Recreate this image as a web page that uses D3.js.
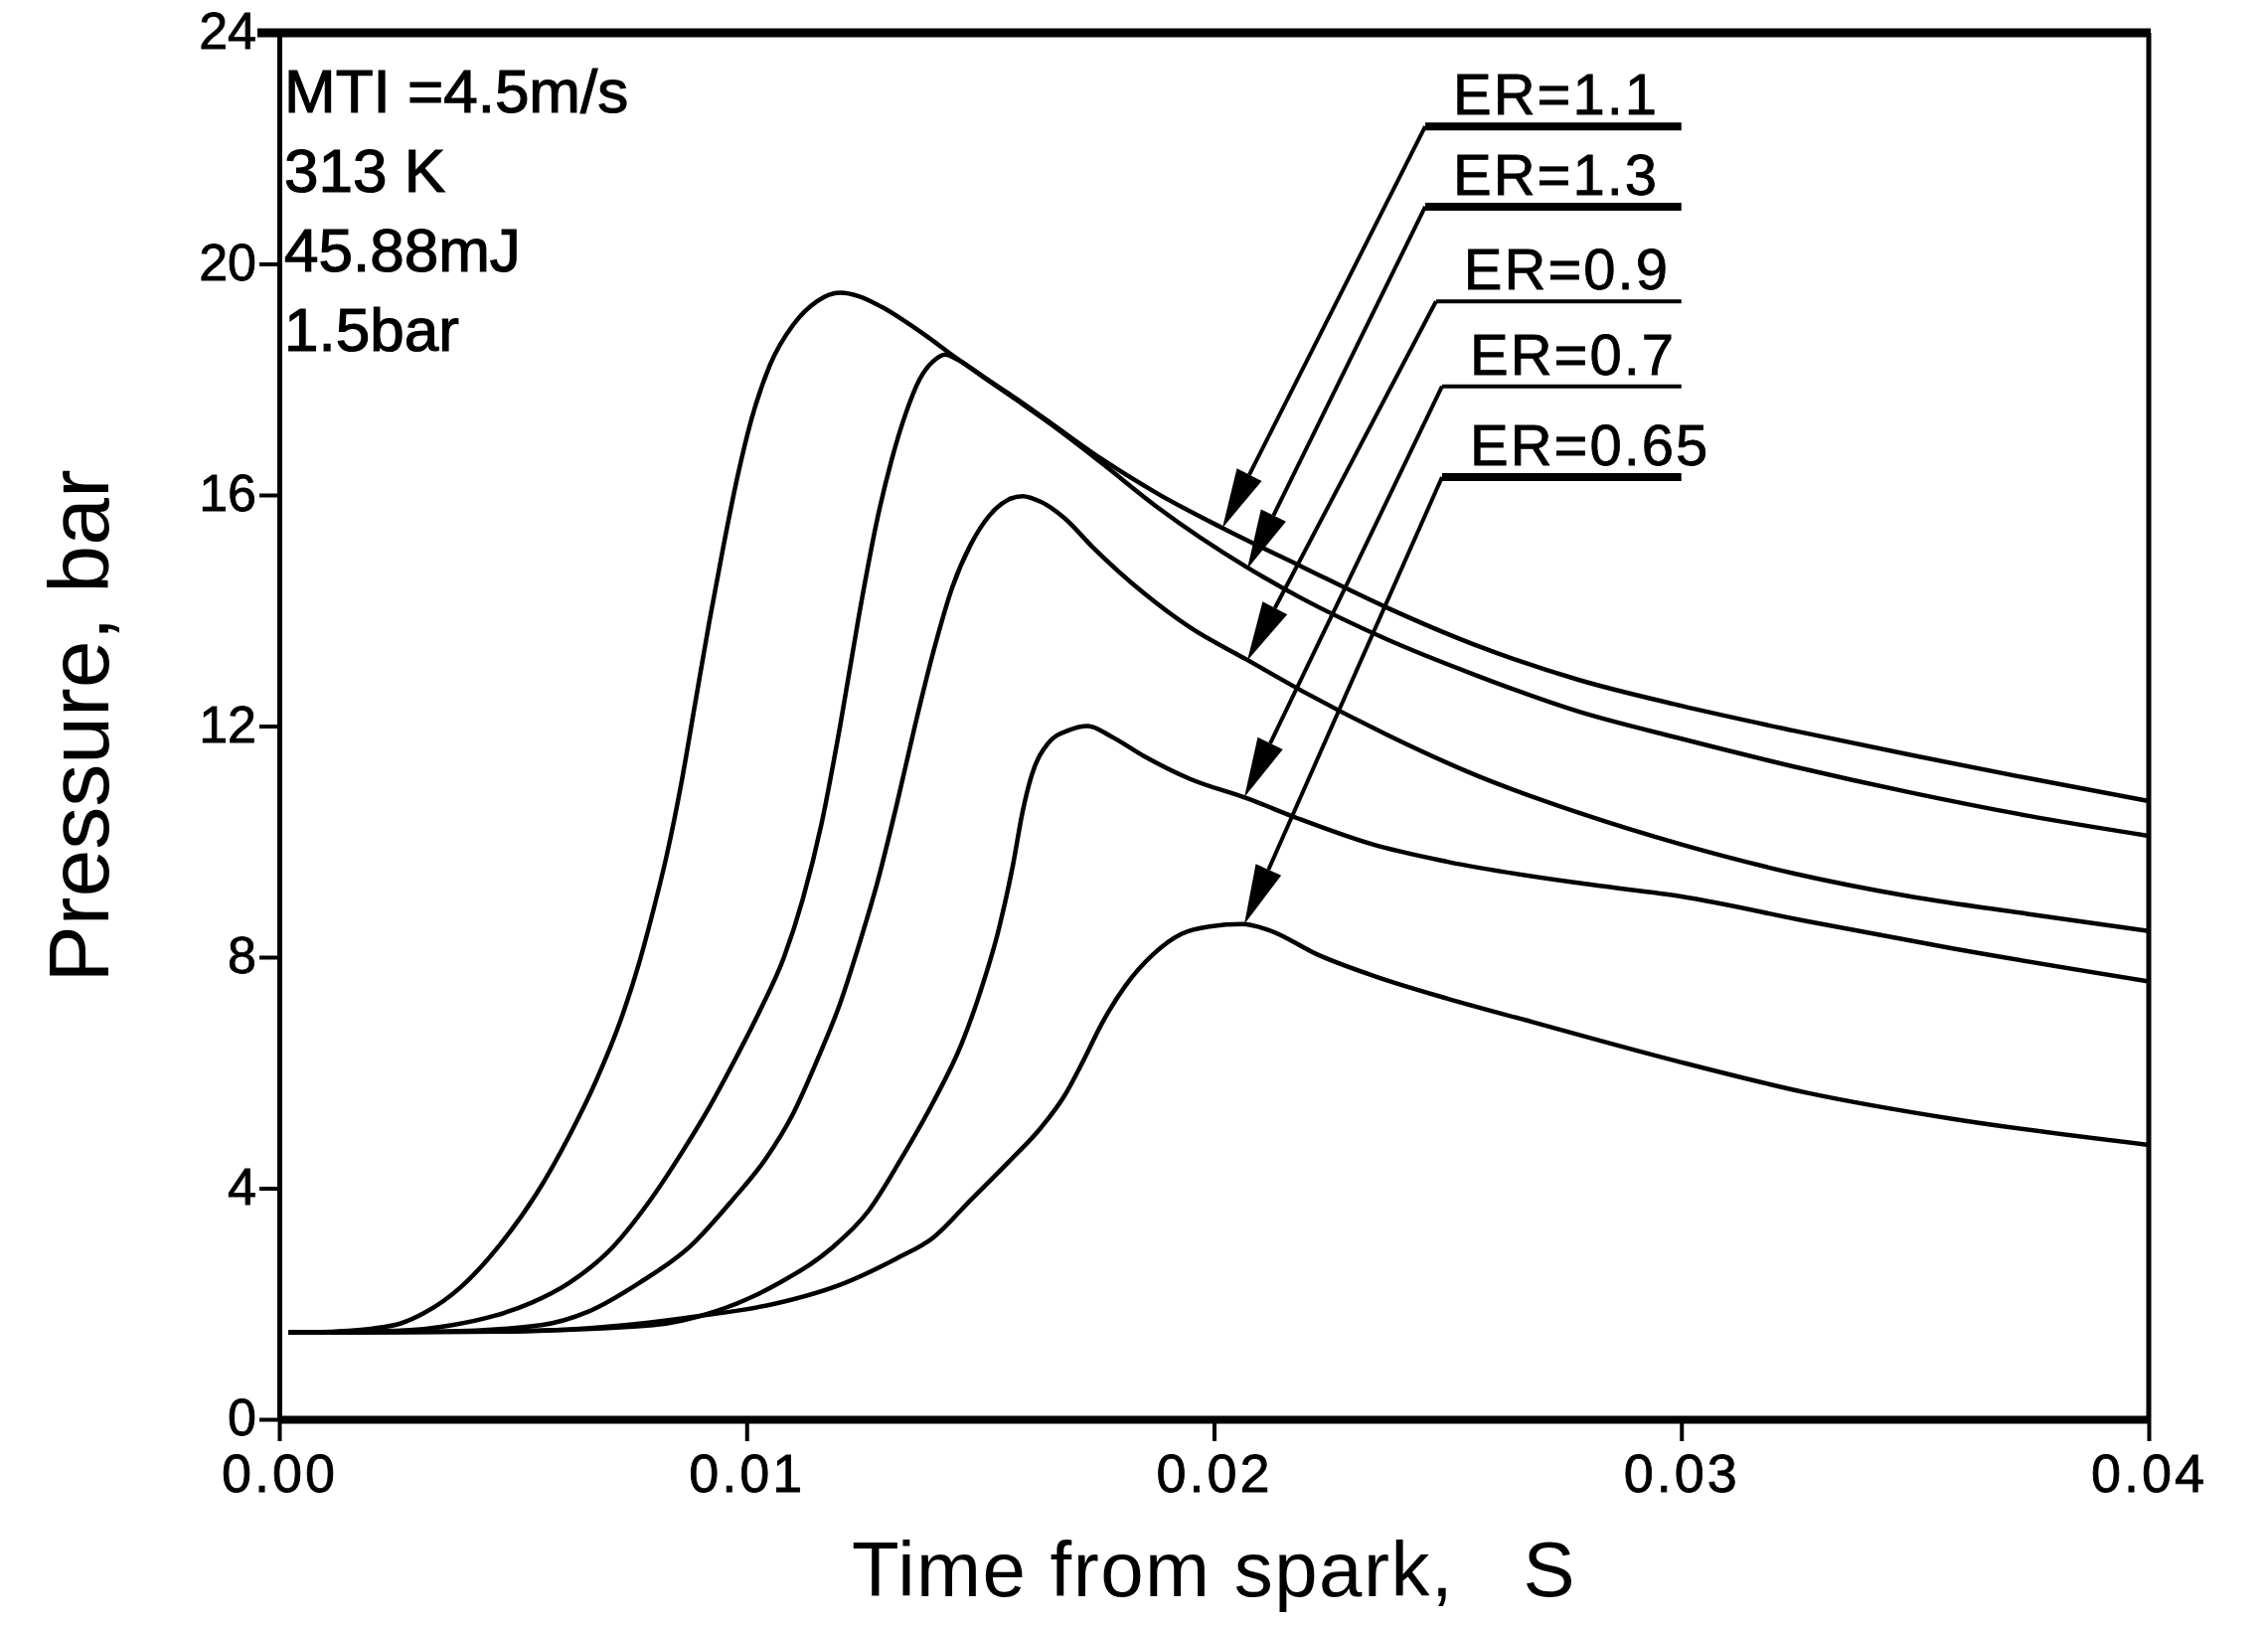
<!DOCTYPE html>
<html>
<head>
<meta charset="utf-8">
<script src="https://cdn.jsdelivr.net/npm/d3@7"></script>
<style>
  body { margin: 0; background: #fff; }
  svg { display: block; }
  text { font-family: "Liberation Sans", Arial, sans-serif; fill: #000; }
</style>
</head>
<body>
<svg id="chart" width="2282" height="1638"></svg>
<script>
// Axis ticks
const timeTicks = [0, 0.01, 0.02, 0.03, 0.04];
const pressureTicks = [0, 4, 8, 12, 16, 20, 24];

// Test conditions printed in the upper-left corner
const conditions = ["MTI =4.5m/s", "313 K", "45.88mJ", "1.5bar"];

// Pressure traces [time (s), pressure (bar)] for each equivalence ratio
const er11 = [[0.0002,1.50],[0.0012,1.52],[0.0020,1.57],[0.0026,1.66],[0.0031,1.84],[0.0039,2.3],[0.0047,3.0],[0.0055,3.9],[0.0062,4.9],[0.0068,5.9],[0.0073,6.9],[0.0077,7.9],[0.0080,8.8],[0.0083,9.8],[0.0086,11.0],[0.0089,12.4],[0.0092,13.8],[0.0095,15.1],[0.0098,16.3],[0.0101,17.3],[0.0105,18.25],[0.0110,18.95],[0.0115,19.35],[0.0120,19.5],[0.0124,19.44],[0.0129,19.25],[0.0134,19.0],[0.0139,18.72],[0.0144,18.42],[0.0151,18.03],[0.0158,17.65],[0.0165,17.25],[0.0176,16.62],[0.0188,16.02],[0.0202,15.42],[0.0219,14.75],[0.0237,14.05],[0.0256,13.4],[0.0278,12.8],[0.0300,12.35],[0.0324,11.92],[0.0349,11.5],[0.0374,11.1],[0.0400,10.7]];
const er13 = [[0.0002,1.50],[0.0025,1.53],[0.0037,1.63],[0.0046,1.79],[0.0054,2.02],[0.0062,2.36],[0.0071,2.95],[0.0079,3.75],[0.0086,4.6],[0.0092,5.4],[0.0098,6.3],[0.0103,7.1],[0.0108,8.0],[0.0112,9.0],[0.0116,10.3],[0.0120,12.0],[0.0124,13.9],[0.0128,15.6],[0.0131,16.6],[0.0134,17.4],[0.0137,18.0],[0.0140,18.32],[0.01425,18.43],[0.0145,18.35],[0.0151,18.02],[0.0158,17.63],[0.0165,17.23],[0.0176,16.55],[0.0188,15.78],[0.0207,14.75],[0.0219,14.2],[0.0237,13.5],[0.0256,12.88],[0.0278,12.25],[0.0300,11.78],[0.0324,11.3],[0.0349,10.85],[0.0374,10.45],[0.0400,10.1]];
const er09 = [[0.0002,1.50],[0.0035,1.52],[0.0056,1.63],[0.0066,1.86],[0.0077,2.36],[0.0088,3.0],[0.0097,3.8],[0.0104,4.5],[0.0110,5.3],[0.0115,6.2],[0.0120,7.2],[0.0124,8.2],[0.0128,9.3],[0.0132,10.6],[0.0136,12.0],[0.0140,13.3],[0.0144,14.4],[0.0148,15.15],[0.0152,15.65],[0.0156,15.92],[0.0159,15.98],[0.0163,15.88],[0.0168,15.6],[0.0174,15.1],[0.0185,14.3],[0.0195,13.7],[0.0207,13.15],[0.0219,12.6],[0.0237,11.85],[0.0256,11.15],[0.0278,10.5],[0.0300,9.95],[0.0324,9.45],[0.0349,9.05],[0.0374,8.75],[0.0400,8.45]];
const er07 = [[0.0002,1.50],[0.0045,1.52],[0.0080,1.63],[0.0093,1.86],[0.0107,2.36],[0.0118,2.95],[0.0126,3.6],[0.0133,4.5],[0.0140,5.5],[0.0146,6.5],[0.0150,7.4],[0.0154,8.5],[0.0157,9.6],[0.0159,10.5],[0.0161,11.15],[0.01645,11.7],[0.0169,11.93],[0.0173,12.0],[0.0178,11.82],[0.0185,11.48],[0.0195,11.08],[0.0207,10.75],[0.0218,10.4],[0.0234,9.95],[0.0250,9.65],[0.0281,9.25],[0.0300,9.05],[0.0327,8.62],[0.0358,8.15],[0.0400,7.58]];
const er065 = [[0.0002,1.50],[0.005,1.52],[0.0074,1.63],[0.0090,1.79],[0.0106,2.0],[0.0121,2.36],[0.0132,2.78],[0.0140,3.15],[0.0148,3.8],[0.0156,4.45],[0.0163,5.05],[0.0168,5.6],[0.0172,6.2],[0.0176,6.85],[0.0181,7.5],[0.0187,8.05],[0.0193,8.4],[0.0199,8.53],[0.0206,8.57],[0.0212,8.46],[0.0222,8.05],[0.0234,7.68],[0.0250,7.28],[0.0268,6.88],[0.0299,6.2],[0.0327,5.65],[0.0358,5.2],[0.0400,4.75]];

const seriesData = [er11, er13, er09, er07, er065];
const seriesLabels = ["ER=1.1", "ER=1.3", "ER=0.9", "ER=0.7", "ER=0.65"];

// Callout geometry in data units: where each label's underline starts,
// and where its arrow points on the trace
const calloutStartT = [0.02452, 0.02452, 0.02475, 0.02488, 0.02488];
const calloutStartP = [22.38, 20.99, 19.35, 17.88, 16.31];
const calloutEndT = 0.0300;
const arrowTipT = [0.02018, 0.02071, 0.02071, 0.02065, 0.02065];
const arrowTipP = [15.43, 14.72, 13.13, 10.77, 8.57];
const underlineWeight = [8, 8, 4, 4, 8];

(function draw() {
  const svg = d3.select("#chart");
  const plotLeft = 281, plotRight = 2162, plotTop = 33, plotBottom = 1428;

  const x = d3.scaleLinear().domain([0, 0.04]).range([plotLeft, plotRight]);
  const y = d3.scaleLinear().domain([0, 24]).range([plotBottom, plotTop]);

  // Frame: top and right edges
  svg.append("line").attr("x1", plotLeft - 22).attr("x2", plotRight + 2)
    .attr("y1", plotTop).attr("y2", plotTop).attr("stroke", "#000").attr("stroke-width", 9);
  svg.append("line").attr("x1", plotRight).attr("x2", plotRight)
    .attr("y1", plotTop).attr("y2", plotBottom).attr("stroke", "#000").attr("stroke-width", 5);

  // Bottom axis
  const xAxis = svg.append("g").attr("transform", `translate(0,${plotBottom})`)
    .call(d3.axisBottom(x).tickValues(timeTicks).tickFormat(d3.format(".2f"))
      .tickSize(22).tickSizeOuter(0).tickPadding(13));
  xAxis.select(".domain").attr("stroke-width", 8).attr("stroke", "#000");
  xAxis.selectAll(".tick line").attr("stroke-width", 4).attr("stroke", "#000");
  xAxis.selectAll(".tick text").attr("font-size", 54).attr("letter-spacing", 3)
    .attr("font-family", "Liberation Sans, Arial, sans-serif").attr("fill", "#000")
    .attr("stroke", "#000").attr("stroke-width", 0.8);

  // Left axis
  const yAxis = svg.append("g").attr("transform", `translate(${plotLeft},0)`)
    .call(d3.axisLeft(y).tickValues(pressureTicks).tickSize(20).tickSizeOuter(0).tickPadding(3));
  yAxis.select(".domain").attr("stroke-width", 5).attr("stroke", "#000");
  yAxis.selectAll(".tick line").attr("stroke-width", 4).attr("stroke", "#000");
  yAxis.selectAll(".tick text").attr("font-size", 52).attr("dy", "0.3em")
    .attr("font-family", "Liberation Sans, Arial, sans-serif").attr("fill", "#000")
    .attr("stroke", "#000").attr("stroke-width", 0.8);

  // Axis titles
  svg.append("text").attr("x", (plotLeft + plotRight) / 2).attr("y", 1606)
    .attr("text-anchor", "middle").attr("font-size", 78).attr("letter-spacing", 1.5)
    .style("white-space", "pre").text("Time from spark,   S");
  svg.append("text").attr("transform", `translate(109,${(plotTop + plotBottom) / 2}) rotate(-90)`)
    .attr("text-anchor", "middle").attr("font-size", 86).text("Pressure, bar");

  // Pressure traces
  const line = d3.line().x(d => x(d[0])).y(d => y(d[1])).curve(d3.curveMonotoneX);
  svg.append("g").selectAll("path").data(seriesData).join("path")
    .attr("d", line).attr("fill", "none").attr("stroke", "#000")
    .attr("stroke-width", 4.5).attr("stroke-linejoin", "round");

  // Conditions block
  svg.append("g").selectAll("text").data(conditions).join("text")
    .attr("x", plotLeft + 5).attr("y", (d, i) => 113 + i * 80)
    .attr("font-size", 62).attr("stroke", "#000").attr("stroke-width", 1.2)
    .text(d => d);

  // Callouts: label, underline, leader line and filled arrowhead
  const callouts = svg.append("g");
  seriesLabels.forEach((label, i) => {
    const sx = x(calloutStartT[i]), sy = y(calloutStartP[i]);
    const ex = x(calloutEndT);
    const tx = x(arrowTipT[i]), ty = y(arrowTipP[i]);
    callouts.append("line").attr("x1", sx).attr("x2", ex).attr("y1", sy).attr("y2", sy)
      .attr("stroke", "#000").attr("stroke-width", underlineWeight[i]);
    callouts.append("text").attr("x", sx + 28).attr("y", sy - 12)
      .attr("font-size", 58).attr("letter-spacing", 2)
      .attr("stroke", "#000").attr("stroke-width", 0.8).text(label);
    const dx = tx - sx, dy = ty - sy, len = Math.hypot(dx, dy);
    const ux = dx / len, uy = dy / len, nx = -uy, ny = ux;
    const headLen = 60, headHalf = 14;
    const bx = tx - ux * headLen, by = ty - uy * headLen;
    callouts.append("line").attr("x1", sx).attr("y1", sy).attr("x2", bx).attr("y2", by)
      .attr("stroke", "#000").attr("stroke-width", 4);
    callouts.append("path")
      .attr("d", `M${tx},${ty}L${bx + nx * headHalf},${by + ny * headHalf}L${bx - nx * headHalf},${by - ny * headHalf}Z`)
      .attr("fill", "#000");
  });
})();
</script>
</body>
</html>
